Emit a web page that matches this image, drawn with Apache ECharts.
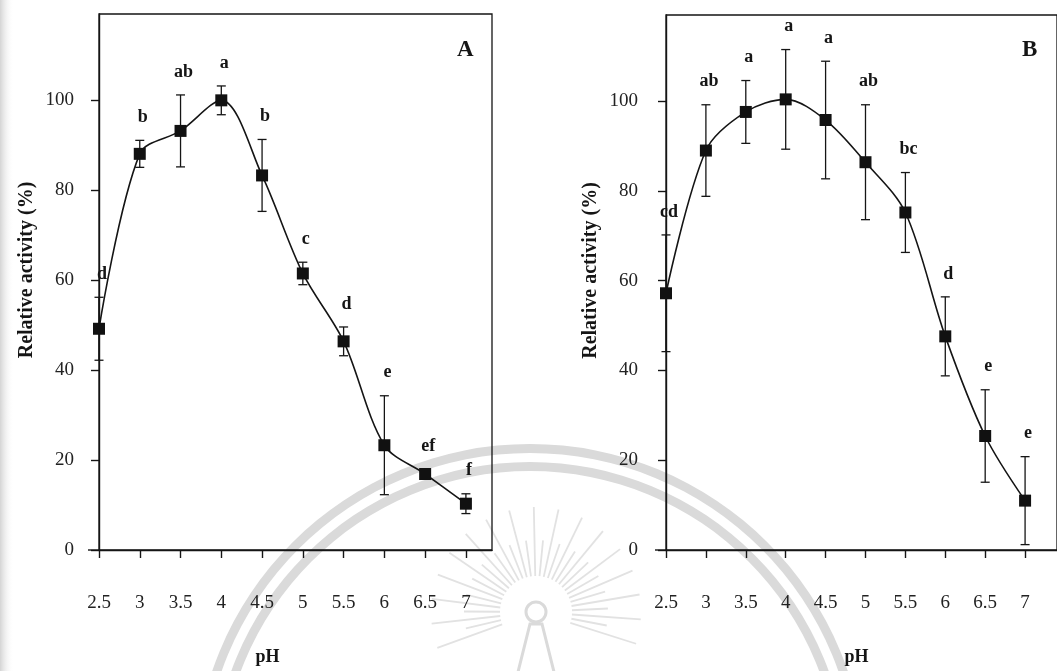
<!DOCTYPE html>
<html>
<head>
<meta charset="utf-8">
<title>Relative activity vs pH</title>
<script src="https://cdn.jsdelivr.net/npm/echarts@6/dist/echarts.min.js"></script>
<style>
  html, body { margin: 0; padding: 0; background: #ffffff; }
  #chart { width: 1057px; height: 671px; }
</style>
</head>
<body>
<div id="chart"></div>
<script>
// pH levels tested
const phValues = [2.5, 3, 3.5, 4, 4.5, 5, 5.5, 6, 6.5, 7];

// Panel A: relative activity (%), standard deviation, significance letters
const activityA = [49.2, 88.1, 93.2, 100.0, 83.3, 61.5, 46.4, 23.3, 16.9, 10.3];
const errorA    = [7.0, 3.0, 8.0, 3.2, 8.0, 2.5, 3.2, 11.0, 1.0, 2.2];
const lettersA  = ['d', 'b', 'ab', 'a', 'b', 'c', 'd', 'e', 'ef', 'f'];

// Panel B: relative activity (%), standard deviation, significance letters
const activityB = [57.2, 89.0, 97.6, 100.4, 95.8, 86.4, 75.2, 47.6, 25.4, 11.0];
const errorB    = [13.0, 10.2, 7.0, 11.1, 13.1, 12.8, 8.9, 8.8, 10.3, 9.8];
const lettersB  = ['cd', 'ab', 'a', 'a', 'a', 'ab', 'bc', 'd', 'e', 'e'];

// Axis tick values
const yTicks = [0, 20, 40, 60, 80, 100];
const xTicks = phValues.slice();

const panelNames = ['A', 'B'];

const SERIF = '"Liberation Serif", "Times New Roman", serif';
const INK = '#151515';

const chart = echarts.init(document.getElementById('chart'), null, { renderer: 'canvas' });

function pairs(ys) { return phValues.map((x, i) => [x, ys[i]]); }
function errRows(ys, es) { return phValues.map((x, i) => [x, ys[i], es[i]]); }

function errorBarRenderer(letters) {
  return function (params, api) {
    const x = api.value(0), y = api.value(1), e = api.value(2);
    const top = api.coord([x, y + e]);
    const bot = api.coord([x, y - e]);
    const cap = 4.5;
    const st = { stroke: INK, lineWidth: 1.3 };
    return {
      type: 'group',
      children: [
        { type: 'line', shape: { x1: top[0], y1: top[1], x2: bot[0], y2: bot[1] }, style: st },
        { type: 'line', shape: { x1: top[0] - cap, y1: top[1], x2: top[0] + cap, y2: top[1] }, style: st },
        { type: 'line', shape: { x1: bot[0] - cap, y1: bot[1], x2: bot[0] + cap, y2: bot[1] }, style: st },
        { type: 'text', style: {
            text: letters[params.dataIndex], x: top[0] + 3, y: top[1] - 23,
            align: 'center', verticalAlign: 'middle',
            font: 'bold 18px ' + SERIF, fill: INK } }
      ]
    };
  };
}

function xAxisCfg(gridIndex, max, namePad) {
  return {
    type: 'value', gridIndex, min: 2.5, max, interval: 0.5,
    name: 'pH', nameLocation: 'middle', nameGap: 98,
    nameTextStyle: { fontFamily: SERIF, fontWeight: 'bold', fontSize: 18, color: INK, padding: namePad },
    axisLine: { show: true, lineStyle: { color: INK, width: 1.4 } },
    axisTick: { show: true, length: 8, customValues: xTicks, lineStyle: { color: INK, width: 1.4 } },
    axisLabel: { customValues: xTicks, margin: 44, fontFamily: SERIF, fontSize: 19, color: '#222',
                 formatter: v => String(v) },
    splitLine: { show: false }
  };
}

function yAxisCfg(gridIndex, labelMargin, nameGap) {
  return {
    type: 'value', gridIndex, min: 0, max: 119.2, interval: 20,
    name: 'Relative activity (%)', nameLocation: 'middle', nameGap, nameRotate: 90,
    nameTextStyle: { fontFamily: SERIF, fontWeight: 'bold', fontSize: 20, color: INK, padding: [0, 0, 0, 24] },
    axisLine: { show: true, lineStyle: { color: INK, width: 1.4 } },
    axisTick: { show: true, length: 8, customValues: yTicks, lineStyle: { color: INK, width: 1.4 } },
    axisLabel: { customValues: yTicks, margin: labelMargin, fontFamily: SERIF, fontSize: 19, color: '#222' },
    splitLine: { show: false }
  };
}

function curveSeries(idx, ys) {
  return {
    type: 'line', xAxisIndex: idx, yAxisIndex: idx, data: pairs(ys), smooth: 0.32,
    symbol: 'rect', symbolSize: 12, showSymbol: true,
    lineStyle: { color: INK, width: 1.6 },
    itemStyle: { color: '#111' }, z: 5, animation: false
  };
}

function errorSeries(idx, ys, es, letters) {
  return {
    type: 'custom', xAxisIndex: idx, yAxisIndex: idx, data: errRows(ys, es),
    renderItem: errorBarRenderer(letters), clip: false, z: 4, animation: false,
    encode: { x: 0, y: [1, 2] }
  };
}

// Faint background emblem (concentric rings, sun rays and spire)
const emblem = [];
const GREY = '#dadada';
const ec = { x: 530, y: 780 };
emblem.push({ type: 'ring', shape: { cx: ec.x, cy: ec.y, r: 336, r0: 327 }, style: { fill: GREY }, z: -10, silent: true });
emblem.push({ type: 'ring', shape: { cx: ec.x, cy: ec.y, r: 318, r0: 309 }, style: { fill: GREY }, z: -10, silent: true });
const sun = { x: 536, y: 612 };
let k = 0;
for (let a = 160; a <= 380; a += 6.8, k++) {
  const t = a * Math.PI / 180;
  const r1 = 36, r2 = (k % 2 === 0) ? 105 : 72;
  emblem.push({ type: 'line', shape: { x1: sun.x + r1 * Math.cos(t), y1: sun.y + r1 * Math.sin(t),
    x2: sun.x + r2 * Math.cos(t), y2: sun.y + r2 * Math.sin(t) },
    style: { stroke: '#e2e2e2', lineWidth: 1.8 }, z: -10, silent: true });
}
emblem.push({ type: 'circle', shape: { cx: sun.x, cy: sun.y, r: 10 }, style: { fill: '#ffffff', stroke: GREY, lineWidth: 3 }, z: -9, silent: true });
emblem.push({ type: 'polygon', shape: { points: [[sun.x - 6, sun.y + 12], [sun.x + 6, sun.y + 12], [sun.x + 20, 680], [sun.x - 20, 680]] },
  style: { fill: '#ffffff', stroke: GREY, lineWidth: 3 }, z: -9, silent: true });
// scanner shading on the left margin
emblem.push({ type: 'rect', shape: { x: 0, y: 0, width: 14, height: 671 },
  style: { fill: new echarts.graphic.LinearGradient(0, 0, 1, 0, [
    { offset: 0, color: '#d4d4d4' }, { offset: 1, color: 'rgba(255,255,255,0)' }]) }, z: -10, silent: true });

const option = {
  backgroundColor: '#ffffff',
  animation: false,
  title: [
    { text: panelNames[0], left: 452, top: 34, textStyle: { fontFamily: SERIF, fontWeight: 'bold', fontSize: 23, color: INK } },
    { text: panelNames[1], left: 1017, top: 34, textStyle: { fontFamily: SERIF, fontWeight: 'bold', fontSize: 23, color: INK } }
  ],
  grid: [
    { left: 99, top: 14, right: 565, bottom: 115, show: true, borderColor: INK, borderWidth: 1.3, backgroundColor: 'transparent' },
    { left: 666, top: 15, right: -9, bottom: 112, show: true, borderColor: INK, borderWidth: 1.3, backgroundColor: 'transparent' }
  ],
  xAxis: [ xAxisCfg(0, 7.32, [0, 56, 0, 0]), xAxisCfg(1, 7.4, [0, 10, 0, 0]) ],
  yAxis: [ yAxisCfg(0, 25, 62), yAxisCfg(1, 28, 65) ],
  series: [
    errorSeries(0, activityA, errorA, lettersA),
    curveSeries(0, activityA),
    errorSeries(1, activityB, errorB, lettersB),
    curveSeries(1, activityB)
  ],
  graphic: emblem
};
chart.setOption(option);

// x-axis lines continue a little to the left of the y-axes
const ext = [];
[0, 1].forEach(i => {
  const p = chart.convertToPixel({ xAxisIndex: i, yAxisIndex: i }, [2.5, 0]);
  ext.push({ type: 'line', shape: { x1: p[0] - 11, y1: p[1], x2: p[0], y2: p[1] },
    style: { stroke: INK, lineWidth: 1.4 }, silent: true, z: 10 });
});
chart.setOption({ graphic: emblem.concat(ext) });
</script>
</body>
</html>
